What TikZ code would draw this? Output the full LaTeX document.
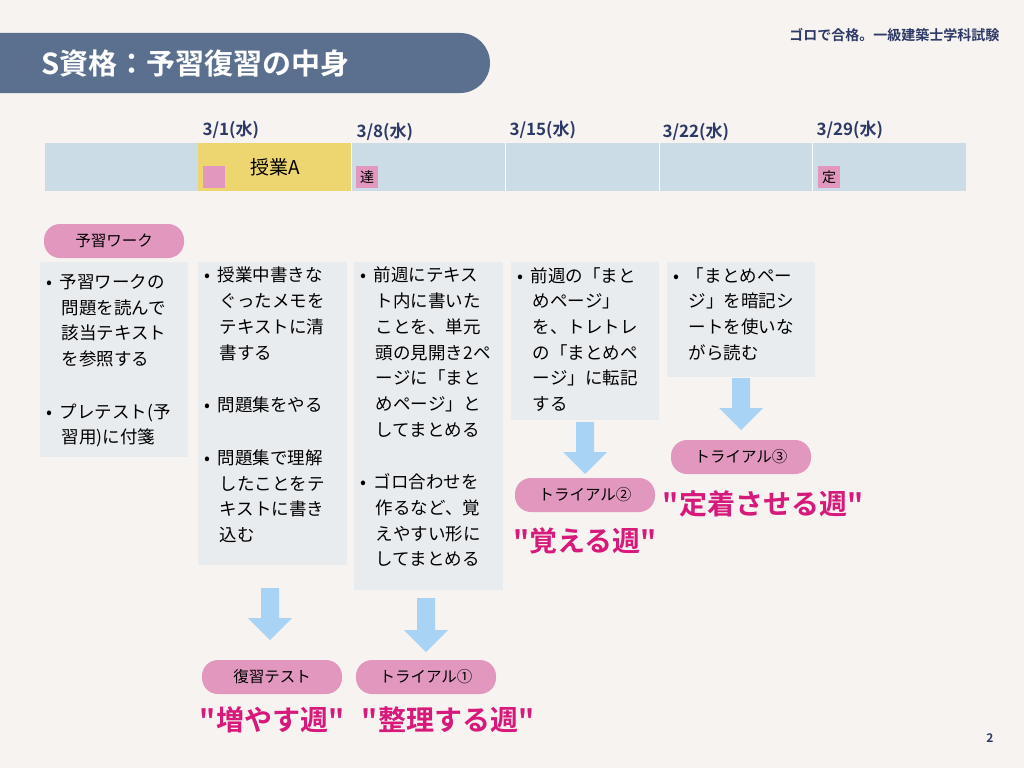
\documentclass[tikz,border=0pt]{standalone}
\usepackage{fontspec}
\setmainfont{Noto Sans CJK JP}
\newfontfamily\jpbold{Noto Sans CJK JP Bold}
\usetikzlibrary{arrows.meta}
\definecolor{bg}{HTML}{F7F3F0}
\definecolor{navy}{HTML}{5B6F8F}
\definecolor{dnavy}{HTML}{2E3A66}
\definecolor{lblue}{HTML}{CCDCE6}
\definecolor{yel}{HTML}{EDD570}
\definecolor{pk}{HTML}{E197BE}
\definecolor{gbox}{HTML}{E9ECEF}
\definecolor{arr}{HTML}{A8D3F5}
\definecolor{mag}{HTML}{D6197A}
\tikzset{
 pill/.style={fill=pk,rounded corners=16pt,minimum width=140pt,minimum height=34pt,font=\fontsize{15.5}{17}\selectfont,inner sep=0pt},
 tbox/.style={anchor=north west,inner xsep=6pt,inner ysep=0pt,align=left,font=\fontsize{17.5}{25.7}\selectfont},
 date/.style={anchor=west,text=dnavy,font=\jpbold\fontsize{17}{18}\selectfont},
 big/.style={text=mag,font=\jpbold\fontsize{28}{30}\selectfont},
 sq/.style={fill=pk,minimum size=22pt,inner sep=0pt,font=\fontsize{14}{14}\selectfont}
}
\newcommand{\DArrow}[3]{\fill[arr] (#1-9,#2) -- (#1+9,#2) -- (#1+9,#3-22) -- (#1+22,#3-22) -- (#1,#3) -- (#1-22,#3-22) -- (#1-9,#3-22) -- cycle;}
\begin{document}
\begin{tikzpicture}[x=1pt,y=-1pt]
\fill[bg] (0,0) rectangle (1024,768);
\useasboundingbox (0,0) rectangle (1024,768);
\fill[navy] (0,33) -- (460,33) arc (-90:90:30) -- (0,93) -- cycle;
\node[anchor=west,text=white,font=\jpbold\fontsize{29}{30}\selectfont] (title) at (38,63) {S資格：予習復習の中身};
\node[anchor=east,text=dnavy,font=\jpbold\fontsize{14}{15}\selectfont] (brand) at (1003,35) {ゴロで合格。一級建築士学科試験};
\fill[lblue] (45,143) rectangle (966,191);
\fill[yel] (198,143) rectangle (351,191);
\foreach \x in {351,505,659,812} \draw[white,line width=1pt] (\x,143) -- (\x,191);
\node[date] (d1) at (199,130) {3/1(水)};
\node[date] (d2) at (353,132) {3/8(水)};
\node[date] (d3) at (506,130) {3/15(水)};
\node[date] (d4) at (659,132) {3/22(水)};
\node[date] (d5) at (813,130) {3/29(水)};
\node[font=\fontsize{19}{20}\selectfont] (ja) at (275,167) {授業A};
\node[sq] (s1) at (214,177) {};
\node[sq] (s2) at (367,177) {達};
\node[sq] (s3) at (829,177) {定};
\node[pill] (p0) at (114,241) {予習ワーク};
\fill[gbox] (40,262) rectangle (188,457);
\fill[gbox] (198,262) rectangle (347,565);
\fill[gbox] (354,262) rectangle (503,590);
\fill[gbox] (511,262) rectangle (659,420);
\fill[gbox] (667,262) rectangle (815,377);
\node[tbox] (b1) at (40,274) {•\ \ 予習ワークの\\\ \ \ \ 問題を読んで\\\ \ \ \ 該当テキスト\\\ \ \ \ を参照する\\[27pt]•\ \ プレテスト(予\\\ \ \ \ 習用)に付箋};
\node[tbox] (b2) at (198,267) {•\ \ 授業中書きな\\\ \ \ \ ぐったメモを\\\ \ \ \ テキストに清\\\ \ \ \ 書する\\[27pt]•\ \ 問題集をやる\\[27pt]•\ \ 問題集で理解\\\ \ \ \ したことをテ\\\ \ \ \ キストに書き\\\ \ \ \ 込む};
\node[tbox] (b3) at (354,267) {•\ \ 前週にテキス\\\ \ \ \ ト内に書いた\\\ \ \ \ ことを、単元\\\ \ \ \ 頭の見開き2ペ\\\ \ \ \ ージに「まと\\\ \ \ \ めページ」と\\\ \ \ \ してまとめる\\[27pt]•\ \ ゴロ合わせを\\\ \ \ \ 作るなど、覚\\\ \ \ \ えやすい形に\\\ \ \ \ してまとめる};
\node[tbox] (b4) at (511,267) {•\ \ 前週の「まと\\\ \ \ \ めページ」\\\ \ \ \ を、トレトレ\\\ \ \ \ の「まとめペ\\\ \ \ \ ージ」に転記\\\ \ \ \ する};
\node[tbox] (b5) at (667,267) {•\ \ 「まとめペー\\\ \ \ \ ジ」を暗記シ\\\ \ \ \ ートを使いな\\\ \ \ \ がら読む};
\DArrow{270}{588}{640}
\DArrow{426}{598}{652}
\DArrow{585}{422}{474}
\DArrow{741}{378}{430}
\node[pill] (p1) at (272,677) {復習テスト};
\node[pill] (p2) at (426,677) {トライアル①};
\node[pill] (p3) at (585,495) {トライアル②};
\node[pill] (p4) at (741,457) {トライアル③};
\node[big] (w1) at (272,720) {"増やす週"};
\node[big] (w2) at (448,720) {"整理する週"};
\node[big] (w3) at (585,541) {"覚える週"};
\node[big] (w4) at (763,504) {"定着させる週"};
\node[text=dnavy,font=\jpbold\fontsize{12}{14}\selectfont] (pg) at (990,738) {2};
\end{tikzpicture}
\end{document}
